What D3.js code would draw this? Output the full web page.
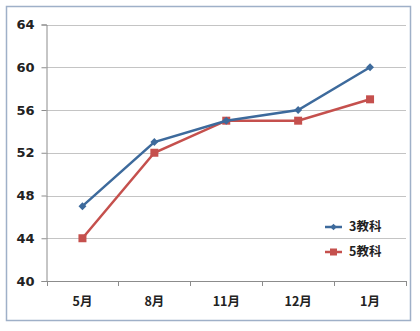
<!DOCTYPE html>
<html><head><meta charset="utf-8">
<script src="https://cdn.jsdelivr.net/npm/d3@7"></script>
<style>
html,body{margin:0;padding:0;background:#fff;}
svg{display:block;}
text{font-family:"Noto Sans CJK JP","DejaVu Sans",sans-serif;}
</style></head>
<body>
<svg id="chart" width="420" height="331"></svg>
<script>
const categories = ["5月","8月","11月","12月","1月"];
const series3 = [47, 53, 55, 56, 60];
const series5 = [44, 52, 55, 55, 57];
const seriesNames = ["3教科","5教科"];
const yTicks = [40,44,48,52,56,60,64];

const svg = d3.select("#chart");
const plot = {left:46.5, right:406, top:24.5, bottom:281};

// outer border
svg.append("rect").attr("x",6.5).attr("y",6.5).attr("width",404).attr("height",314)
  .attr("fill","#fff").attr("stroke","#9fb0c8").attr("stroke-width",1.5);

const x = d3.scaleBand().domain(categories).range([plot.left, plot.right]).padding(0);
const y = d3.scaleLinear().domain([40,64]).range([plot.bottom, plot.top]);

// gridlines
svg.append("g").selectAll("line").data(yTicks.filter(d=>d!==40)).join("line")
  .attr("x1",plot.left).attr("x2",plot.right)
  .attr("y1",d=>Math.round(y(d))+0.5).attr("y2",d=>Math.round(y(d))+0.5)
  .attr("stroke","#c4c4c4").attr("stroke-width",1);

// y axis
const yAxis = d3.axisLeft(y).tickValues(yTicks).tickSize(5).tickPadding(7);
const gy = svg.append("g").attr("transform",`translate(${plot.left},0)`).call(yAxis);
gy.attr("font-family",null).attr("font-size",null);
gy.select(".domain").attr("stroke","#8c8c8c");
gy.selectAll(".tick line").attr("stroke","#8c8c8c");
gy.selectAll(".tick text")
  .style("font-family","'DejaVu Sans',Verdana,sans-serif")
  .style("font-size","13px").style("font-weight","bold").attr("fill","#222");

// x axis
const xAxis = d3.axisBottom(x).tickSize(0).tickPadding(16);
const gx = svg.append("g").attr("transform",`translate(0,${plot.bottom})`).call(xAxis);
gx.attr("font-family",null).attr("font-size",null);
gx.select(".domain").attr("stroke","#8c8c8c");
gx.selectAll(".tick text")
  .style("font-family","'Noto Sans CJK JP','DejaVu Sans',sans-serif")
  .style("font-size","12.5px").style("font-weight","bold").attr("fill","#222");
// x tick marks at band boundaries
const bounds = categories.map(c=>x(c)).concat([x(categories[categories.length-1])+x.bandwidth()]);
svg.append("g").selectAll("line").data(bounds).join("line")
  .attr("x1",d=>Math.round(d)+0.5).attr("x2",d=>Math.round(d)+0.5)
  .attr("y1",plot.bottom).attr("y2",plot.bottom+5)
  .attr("stroke","#8c8c8c");

const cx = c => x(c) + x.bandwidth()/2;
const line = d3.line().x((d,i)=>cx(categories[i])).y(d=>y(d));

const colors = ["#3d6a9c","#c5504d"];

// series 5 (red) drawn first so blue is on top
svg.append("path").datum(series5).attr("d",line).attr("fill","none")
  .attr("stroke",colors[1]).attr("stroke-width",2.5);
svg.append("g").selectAll("rect").data(series5).join("rect")
  .attr("x",(d,i)=>cx(categories[i])-4).attr("y",d=>y(d)-4)
  .attr("width",8).attr("height",8).attr("fill",colors[1]);

svg.append("path").datum(series3).attr("d",line).attr("fill","none")
  .attr("stroke",colors[0]).attr("stroke-width",2.5);
const diamond = d3.symbol().type(d3.symbolDiamond2).size(40);
svg.append("g").selectAll("path").data(series3).join("path")
  .attr("transform",(d,i)=>`translate(${cx(categories[i])},${y(d)})`)
  .attr("d",diamond).attr("fill",colors[0]);

// legend
const leg = svg.append("g");
const legY = [227, 252];
seriesNames.forEach((n,i)=>{
  const g = leg.append("g").attr("transform",`translate(325,${legY[i]})`);
  g.append("line").attr("x1",0).attr("x2",17).attr("y1",0).attr("y2",0)
    .attr("stroke",colors[i]).attr("stroke-width",2.5);
  if(i===0){
    g.append("path").attr("transform","translate(8.5,0)").attr("d",d3.symbol().type(d3.symbolDiamond2).size(28)).attr("fill",colors[0]);
  } else {
    g.append("rect").attr("x",5).attr("y",-3.5).attr("width",7).attr("height",7).attr("fill",colors[1]);
  }
  g.append("text").attr("x",24).attr("y",0).attr("dy","0.35em")
    .style("font-size","12.5px").style("font-weight","bold").attr("fill","#222").text(n);
});
</script>
</body></html>
